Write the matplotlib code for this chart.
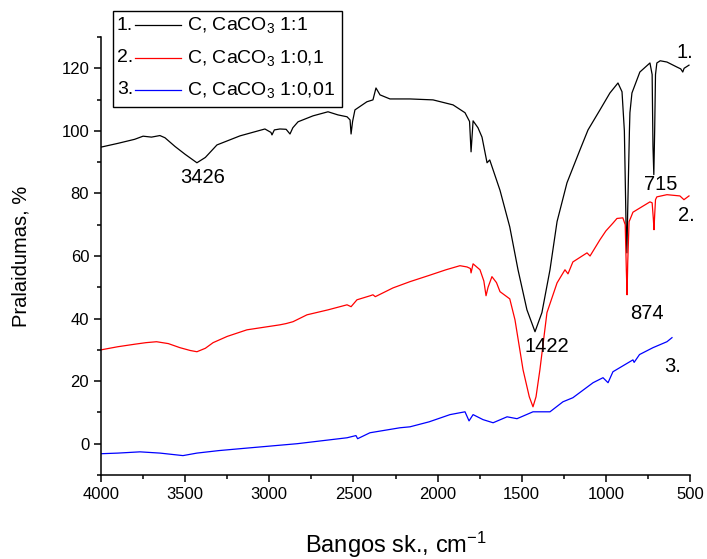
import matplotlib
matplotlib.use('Agg')
import matplotlib.pyplot as plt
from matplotlib.lines import Line2D
from matplotlib.patches import Rectangle

plt.rcParams['font.family'] = ['Liberation Sans', 'DejaVu Sans']
plt.rcParams['mathtext.fontset'] = 'custom'
plt.rcParams['mathtext.rm'] = 'Liberation Sans'
plt.rcParams['mathtext.default'] = 'regular'

# spectrum 1: C, CaCO3 1:1 (black)
wn_1 = [4000, 3900, 3800, 3750, 3700, 3650, 3620, 3560, 3500, 3430, 3380, 3311,
        3174, 3026, 2990, 2984, 2970, 2937, 2900, 2877, 2860, 2829, 2740, 2651,
        2592, 2538, 2520, 2514, 2505, 2491, 2420, 2384, 2366, 2342, 2283, 2164,
        2027, 1908, 1837, 1810, 1801, 1789, 1760, 1736, 1706, 1690, 1629, 1571,
        1522, 1469, 1421, 1380, 1332, 1290, 1231, 1154, 1106, 1035, 976, 928,
        904, 890, 880, 875, 870, 860, 857, 845, 798, 738, 725, 720, 715, 710,
        705, 697, 677, 637, 578, 555, 543, 535, 506]
tr_1 = [94.8, 96.0, 97.3, 98.3, 98.0, 98.5, 97.8, 95.0, 92.5, 89.8, 91.5, 95.5,
        98.4, 100.6, 99.5, 98.7, 100.3, 100.6, 100.5, 99.0, 101.0, 102.9, 104.8, 106.1,
        105.1, 104.5, 103.5, 99.0, 103.0, 106.7, 109.3, 109.9, 113.7, 111.5, 110.2, 110.2,
        109.9, 108.3, 105.8, 103.0, 93.3, 103.2, 101.0, 98.0, 89.8, 90.7, 81.0, 69.3,
        55.6, 42.8, 35.8, 41.9, 55.6, 71.0, 83.4, 93.9, 100.3, 106.7, 112.1, 115.3,
        112.5, 100.0, 70.0, 61.0, 75.0, 100.0, 105.8, 112.1, 118.8, 121.7, 118.0, 95.0, 86.0, 100.0,
        118.0, 121.7, 122.4, 122.0, 120.4, 119.8, 118.8, 120.0, 121.0]

# spectrum 2: C, CaCO3 1:0,1 (red)
wn_2 = [4000, 3900, 3800, 3733, 3670, 3600, 3531, 3470, 3430, 3380, 3334, 3250,
        3133, 2937, 2900, 2859, 2776, 2650, 2538, 2514, 2479, 2400, 2384, 2370,
        2265, 2164, 2050, 1950, 1867, 1825, 1805, 1801, 1789, 1748, 1725, 1712,
        1700, 1677, 1650, 1629, 1571, 1540, 1492, 1455, 1433, 1415, 1392, 1350,
        1290, 1243, 1225, 1196, 1112, 1094, 1035, 1000, 958, 934, 899, 885, 878,
        874, 870, 862, 857, 839, 738, 725, 718, 714, 710, 705, 697, 637, 560,
        536, 506]
tr_2 = [30.0, 31.0, 31.8, 32.3, 32.6, 32.0, 30.7, 29.8, 29.4, 30.5, 32.3, 34.3,
        36.4, 38.0, 38.4, 39.0, 41.2, 42.8, 44.4, 43.8, 46.0, 47.3, 47.6, 47.0,
        49.8, 51.8, 53.8, 55.6, 56.9, 56.5, 56.0, 54.6, 57.5, 55.6, 52.0, 47.3,
        50.0, 53.4, 51.5, 48.6, 46.3, 39.6, 23.6, 15.0, 11.8, 15.0, 23.6, 41.9,
        51.4, 55.6, 54.3, 58.1, 61.0, 60.0, 65.2, 68.0, 70.5, 72.0, 72.2, 70.0, 55.0,
        47.6, 58.0, 71.0, 71.6, 74.0, 77.3, 77.0, 72.0, 68.4, 73.0, 78.0, 78.9, 79.6, 79.2,
        78.0, 79.2]

# spectrum 3: C, CaCO3 1:0,01 (blue)
wn_3 = [4000, 3900, 3768, 3649, 3513, 3430, 3300, 3133, 2835, 2538, 2485, 2475,
        2402, 2223, 2164, 2050, 1926, 1837, 1813, 1789, 1730, 1670, 1587, 1528,
        1433, 1332, 1255, 1196, 1076, 1017, 987, 958, 839, 832, 800, 720, 637, 607]
tr_3 = [-3.2, -3.0, -2.6, -3.0, -3.8, -3.0, -2.2, -1.4, 0.0, 1.9, 2.6, 1.6,
        3.5, 5.1, 5.4, 7.0, 9.3, 10.2, 7.3, 9.3, 7.7, 6.7, 8.6, 8.0,
        10.2, 10.2, 13.4, 14.7, 19.5, 21.1, 19.5, 23.0, 26.8, 26.0, 28.5, 30.7, 32.6, 33.9]

labels = ['C, CaCO$_3$ 1:1', 'C, CaCO$_3$ 1:0,1', 'C, CaCO$_3$ 1:0,01']
colors = ['black', 'red', 'blue']

# peak labels (text, wavenumber, transmittance)
peak_text = ['3426', '1422', '874', '715']
peak_x = [3394, 1350, 756, 672]
peak_y = [85, 31, 41.5, 83]

# curve numbers at the right end
num_text = ['1.', '2.', '3.']
num_x = [530, 524, 601]
num_y = [125, 73, 24.6]

W, H = 707, 559
fig = plt.figure(figsize=(W / 100, H / 100), dpi=100)
ax = fig.add_axes([101 / W, 1 - 475 / H, 589 / W, 438 / H])

for wn, tr, c in zip([wn_1, wn_2, wn_3], [tr_1, tr_2, tr_3], colors):
    ax.plot(wn, tr, color=c, lw=0.9)

ax.set_xlim(4000, 500)
ax.set_ylim(-10, 130)
ax.set_xticks(range(4000, 499, -500))
ax.set_xticks(range(4000, 499, -250), minor=True)
ax.set_yticks(range(0, 121, 20))
ax.set_yticks(range(-10, 131, 10), minor=True)

for s in ['top', 'right']:
    ax.spines[s].set_visible(False)
for s in ['left', 'bottom']:
    ax.spines[s].set_linewidth(1.1)
ax.tick_params(which='major', direction='out', length=5, width=1.1, labelsize=12)
ax.tick_params(which='minor', direction='out', length=3, width=1.1)

ax.set_xlabel('Bangos sk., cm$^{-1}$', fontsize=17, labelpad=20)
ax.set_ylabel('Pralaidumas, %', fontsize=14.5, labelpad=22)

for t, x, y in zip(peak_text, peak_x, peak_y):
    ax.text(x, y, t, fontsize=14.5, ha='center', va='center')
for t, x, y in zip(num_text, num_x, num_y):
    ax.text(x, y, t, fontsize=14.5, ha='center', va='center')

# legend box drawn in figure pixels
def fx(px):
    return px / W

def fy(py):
    return 1 - py / H

fig.add_artist(Rectangle((fx(113), fy(107)), fx(342) - fx(113), fy(11) - fy(107),
                         transform=fig.transFigure, fill=False, lw=1.0, ec='black'))
rows = [25, 58, 90]
for i, (lab, c, py) in enumerate(zip(labels, colors, rows)):
    fig.text(fx(117), fy(py), f'{i + 1}.', fontsize=14, va='center', ha='left')
    fig.add_artist(Line2D([fx(135), fx(181)], [fy(py), fy(py)], color=c, lw=0.9,
                          transform=fig.transFigure))
    fig.text(fx(187), fy(py), lab, fontsize=14, va='center', ha='left')

fig.savefig('out.png', dpi=100)
